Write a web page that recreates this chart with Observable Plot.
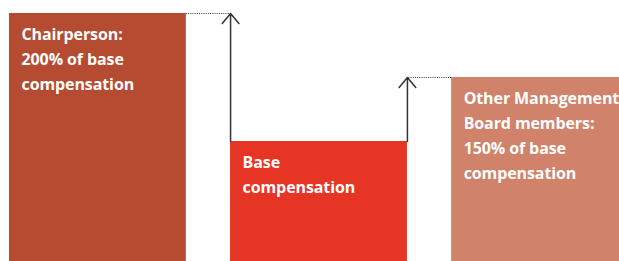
<!DOCTYPE html>
<html>
<head>
<meta charset="utf-8">
<script src="https://cdn.jsdelivr.net/npm/d3@7"></script>
<script src="https://cdn.jsdelivr.net/npm/@observablehq/plot@0.6"></script>
<style>
  html, body { margin: 0; padding: 0; background: #fff; overflow: hidden; }
  text { font-variant-ligatures: none; letter-spacing: -0.1px; }
</style>
</head>
<body>
<div id="chart"></div>
<script>
const categories = ["Chairperson", "Base compensation", "Other Management Board members"];
const values = [200, 100, 150];
const labels = [
  "Chairperson:\n200% of base\ncompensation",
  "Base\ncompensation",
  "Other Management\nBoard members:\n150% of base\ncompensation"
];
const colors = ["#b54b30", "#e63425", "#d0836a"];
const barWidth = 0.8;

const bars = categories.map((c, i) => ({
  name: c, x1: i, x2: i + barWidth, value: values[i], label: labels[i], color: colors[i]
}));
const baseIdx = 1;
const arrows = [
  {x: baseIdx, from: values[baseIdx], to: values[0], x0: 0 + barWidth},
  {x: baseIdx + barWidth, from: values[baseIdx], to: values[2], x0: 2}
];

const chart = Plot.plot({
  width: 619,
  height: 261,
  margin: 0,
  x: {domain: [0, 2.8], range: [9, 628], axis: null},
  y: {domain: [0, 200], range: [269, 13], axis: null},
  style: {background: "#fff"},
  marks: [
    Plot.rectY(bars, {x1: "x1", x2: "x2", y1: 0, y2: "value", fill: "color"}),
    Plot.ruleY(arrows, {y: "to", x1: "x0", x2: "x", stroke: "#333", strokeWidth: 1, strokeDasharray: "1,1.2"}),
    Plot.arrow(arrows, {x1: "x", x2: "x", y1: "from", y2: "to", stroke: "#333", strokeWidth: 1.5, headLength: 13, headAngle: 80}),
    Plot.text(bars, {
      x: "x1", y: "value", text: "label", dx: 12, dy: 9,
      textAnchor: "start", lineAnchor: "top", lineHeight: 1.56,
      fill: "white", fontWeight: 700, fontSize: 16,
      fontFamily: "'Open Sans', sans-serif"
    })
  ]
});
document.getElementById("chart").append(chart);
</script>
</body>
</html>
